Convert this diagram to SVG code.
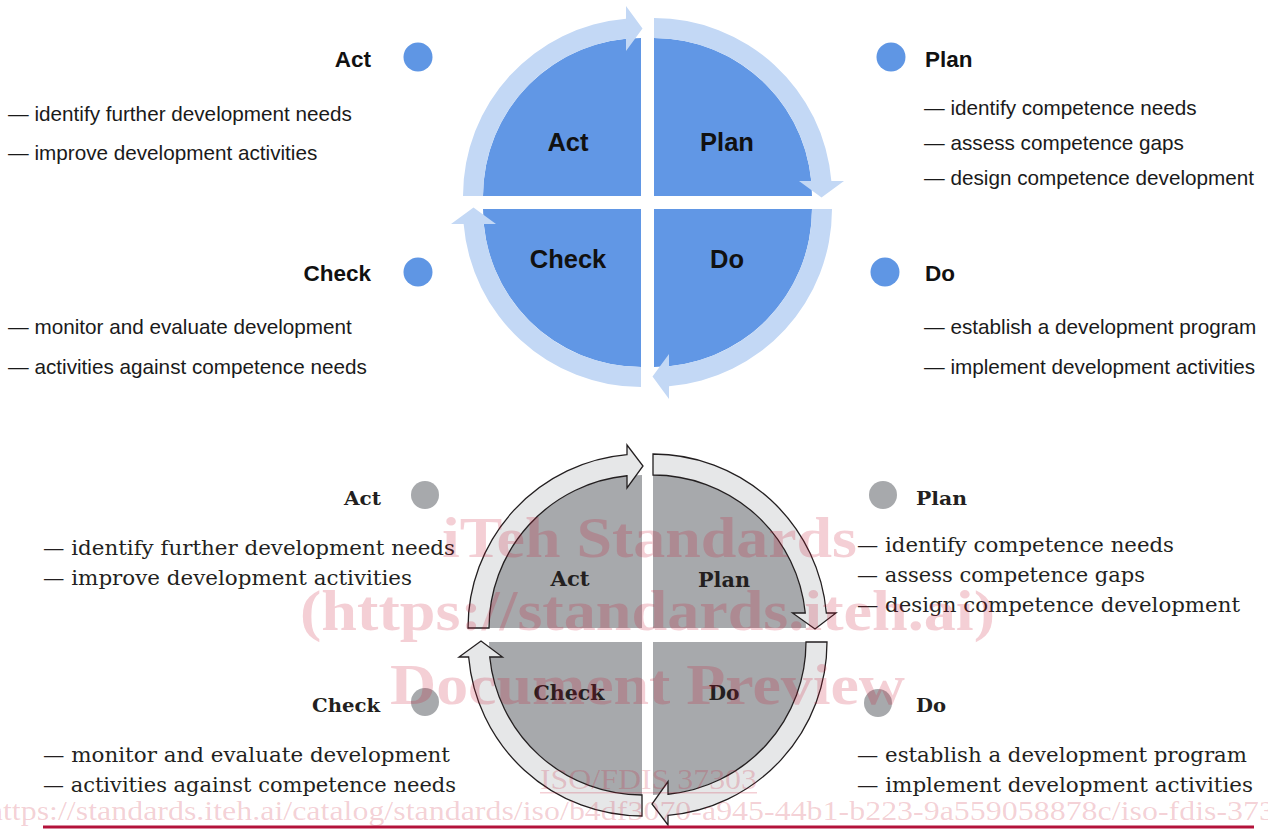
<svg xmlns="http://www.w3.org/2000/svg" width="1268" height="832" viewBox="0 0 1268 832">
<style>
.qb{fill:#6197e5}
.rb{fill:#c3d8f5}
.db{fill:#5f96e4}
.qg{fill:#a7a9ac}
.rg{fill:#e6e7e8;stroke:#231f20;stroke-width:1.3;stroke-linejoin:miter}
.dg{fill:#a7a9ac}
.sl{font-family:"Liberation Sans",Arial,sans-serif;font-weight:bold;font-size:22.5px;fill:#111}
.sq{font-family:"Liberation Sans",Arial,sans-serif;font-weight:bold;font-size:25.5px;fill:#111;text-anchor:middle}
.st{font-family:"Liberation Sans",Arial,sans-serif;font-size:20.7px;fill:#1a1a1a}
.fl{font-family:"DejaVu Serif","Liberation Serif",serif;font-weight:bold;font-size:19px;fill:#231f20}
.fq{font-family:"DejaVu Serif","Liberation Serif",serif;font-weight:bold;font-size:20.5px;fill:#231f20;text-anchor:middle}
.ft{font-family:"DejaVu Serif","Liberation Serif",serif;font-size:19.5px;fill:#231f20}
.wm{font-family:"Liberation Serif","Times New Roman",serif;font-weight:bold;fill:#c8102e;fill-opacity:0.2}
.wr{font-family:"Liberation Serif","Times New Roman",serif;fill:#c8102e;fill-opacity:0.2}
</style>
<rect width="1268" height="832" fill="#ffffff"/>

<!-- TOP DIAGRAM -->
<g id="top-act">
<path class="qb" d="M641,196 H483 A158,158 0 0 1 641,38 Z"/>
<text class="sq" x="568" y="151">Act</text>
</g>
<g id="top-plan">
<path class="qb" d="M654,196 V38 A158,158 0 0 1 812,196 Z"/>
<text class="sq" x="727" y="151">Plan</text>
</g>
<g id="top-do">
<path class="qb" d="M654,209 H812 A158,158 0 0 1 654,367 Z"/>
<text class="sq" x="727" y="268">Do</text>
</g>
<g id="top-check">
<path class="qb" d="M641,209 V367 A158,158 0 0 1 483,209 Z"/>
<text class="sq" x="568" y="268">Check</text>
</g>

<g id="top-connectors">
<path class="rb" d="M483,196 L463,196 A178,178 0 0 1 626,18.63 L626,6 L642.5,28.5 L626,51 L626,38.71 A158,158 0 0 0 483,196 Z"/>
<path class="rb" d="M654,38 L654,18 A178,178 0 0 1 831.37,181 L844,181 L821.5,197.5 L799,181 L811.29,181 A158,158 0 0 0 654,38 Z"/>
<path class="rb" d="M812,209 L832,209 A178,178 0 0 1 669,386.37 L669,399 L652.5,376.5 L669,354 L669,366.29 A158,158 0 0 0 812,209 Z"/>
<path class="rb" d="M641,367 L641,387 A178,178 0 0 1 463.63,224 L451,224 L473.5,207.5 L496,224 L483.71,224 A158,158 0 0 0 641,367 Z"/>
</g>

<g id="top-act-info">
<text class="sl" x="371" y="67" text-anchor="end">Act</text>
<circle class="db" cx="418" cy="57" r="14.5"/>
<text class="st" x="8" y="121">— identify further development needs</text>
<text class="st" x="8" y="160">— improve development activities</text>
</g>
<g id="top-plan-info">
<circle class="db" cx="891" cy="57" r="14.5"/>
<text class="sl" x="925" y="67">Plan</text>
<text class="st" x="924" y="115">— identify competence needs</text>
<text class="st" x="924" y="150">— assess competence gaps</text>
<text class="st" x="924" y="185">— design competence development</text>
</g>
<g id="top-check-info">
<text class="sl" x="371" y="281" text-anchor="end">Check</text>
<circle class="db" cx="418" cy="272" r="14.5"/>
<text class="st" x="8" y="334">— monitor and evaluate development</text>
<text class="st" x="8" y="374">— activities against competence needs</text>
</g>
<g id="top-do-info">
<circle class="db" cx="885" cy="272" r="14.5"/>
<text class="sl" x="925" y="281">Do</text>
<text class="st" x="924" y="334">— establish a development program</text>
<text class="st" x="924" y="374">— implement development activities</text>
</g>

<!-- BOTTOM DIAGRAM -->
<g id="bot-act">
<path class="qg" d="M642,628 H489 A153,153 0 0 1 642,475 Z"/>
<text class="fq" x="570" y="586" textLength="39" lengthAdjust="spacingAndGlyphs">Act</text>
</g>
<g id="bot-plan">
<path class="qg" d="M653,628 V475 A153,153 0 0 1 806,628 Z"/>
<text class="fq" x="724" y="587" textLength="52" lengthAdjust="spacingAndGlyphs">Plan</text>
</g>
<g id="bot-do">
<path class="qg" d="M653,642 H806 A153,153 0 0 1 653,795 Z"/>
<text class="fq" x="724" y="700" textLength="31" lengthAdjust="spacingAndGlyphs">Do</text>
</g>
<g id="bot-check">
<path class="qg" d="M642,642 V795 A153,153 0 0 1 489,642 Z"/>
<text class="fq" x="569" y="700" textLength="71" lengthAdjust="spacingAndGlyphs">Check</text>
</g>

<g id="bot-connectors">
<path class="rg" d="M489,628 L468,628 A174,174 0 0 1 627,454.65 L627,445 L643,466 L627,488 L627,475.74 A153,153 0 0 0 489,628 Z"/>
<path class="rg" d="M653,475 L653,454 A174,174 0 0 1 826.35,613 L836,613 L815,629 L792.5,613 L805.26,613 A153,153 0 0 0 653,475 Z"/>
<path class="rg" d="M806,642 L827,642 A174,174 0 0 1 668,815.35 L668,825 L652,804 L668,781.5 L668,794.26 A153,153 0 0 0 806,642 Z"/>
<path class="rg" d="M642,795 L642,816 A174,174 0 0 1 468.65,657 L459,657 L481,641 L502.5,657 L489.74,657 A153,153 0 0 0 642,795 Z"/>
</g>

<g id="bot-act-info">
<text class="fl" x="344" y="505" textLength="37" lengthAdjust="spacingAndGlyphs">Act</text>
<circle class="dg" cx="425" cy="495" r="14"/>
<text class="ft" x="43" y="555" textLength="412" lengthAdjust="spacingAndGlyphs">— identify further development needs</text>
<text class="ft" x="43" y="585" textLength="369" lengthAdjust="spacingAndGlyphs">— improve development activities</text>
</g>
<g id="bot-plan-info">
<circle class="dg" cx="883" cy="495" r="14"/>
<text class="fl" x="916" y="505" textLength="51" lengthAdjust="spacingAndGlyphs">Plan</text>
<text class="ft" x="857" y="552" textLength="317" lengthAdjust="spacingAndGlyphs">— identify competence needs</text>
<text class="ft" x="857" y="582" textLength="288" lengthAdjust="spacingAndGlyphs">— assess competence gaps</text>
<text class="ft" x="857" y="612" textLength="383" lengthAdjust="spacingAndGlyphs">— design competence development</text>
</g>
<g id="bot-check-info">
<text class="fl" x="312" y="712" textLength="68" lengthAdjust="spacingAndGlyphs">Check</text>
<circle class="dg" cx="425" cy="702" r="14"/>
<text class="ft" x="43" y="762" textLength="407" lengthAdjust="spacingAndGlyphs">— monitor and evaluate development</text>
<text class="ft" x="43" y="792" textLength="413" lengthAdjust="spacingAndGlyphs">— activities against competence needs</text>
</g>
<g id="bot-do-info">
<circle class="dg" cx="878" cy="703" r="14"/>
<text class="fl" x="916" y="712" textLength="30" lengthAdjust="spacingAndGlyphs">Do</text>
<text class="ft" x="857" y="762" textLength="390" lengthAdjust="spacingAndGlyphs">— establish a development program</text>
<text class="ft" x="857" y="792" textLength="396" lengthAdjust="spacingAndGlyphs">— implement development activities</text>
</g>

<!-- WATERMARK -->
<g id="watermark">
<text class="wm" x="442" y="557" font-size="56" textLength="415" lengthAdjust="spacingAndGlyphs">iTeh Standards</text>
<text class="wm" x="300" y="630" font-size="56" textLength="695" lengthAdjust="spacingAndGlyphs">(https://standards.iteh.ai)</text>
<text class="wm" x="390" y="704" font-size="56" textLength="515" lengthAdjust="spacingAndGlyphs">Document Preview</text>
<text class="wr" x="540" y="789" font-size="30" textLength="217" lengthAdjust="spacingAndGlyphs">ISO/FDIS 37303</text>
<rect x="540" y="792" width="217" height="1.5" fill="#c8102e" fill-opacity="0.2"/>
<text class="wr" x="-13" y="820" font-size="28" textLength="1288" lengthAdjust="spacingAndGlyphs">https://standards.iteh.ai/catalog/standards/iso/b4df3070-a945-44b1-b223-9a559058878c/iso-fdis-373</text>
</g>
<rect id="footer-rule" x="43" y="825.5" width="1211" height="3" fill="#b3123a"/>
</svg>
